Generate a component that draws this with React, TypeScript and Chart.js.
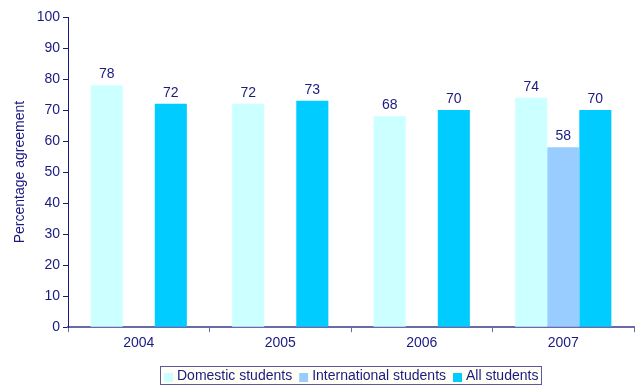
import React, { useEffect, useRef } from "react";
import { Chart, registerables } from "chart.js";

Chart.register(...registerables);

const categories = ["2004", "2005", "2006", "2007"];
const domestic = [78, 72, 68, 74];
const international = [null, null, null, 58];
const allStudents = [72, 73, 70, 70];
const yTicks = [0, 10, 20, 30, 40, 50, 60, 70, 80, 90, 100];

const NAVY = "#1a1a80";
const FONT = "'Liberation Sans', Arial, sans-serif";

const valueLabels = {
  id: "valueLabels",
  afterDatasetsDraw(chart: any) {
    const ctx = chart.ctx;
    ctx.save();
    ctx.fillStyle = NAVY;
    ctx.font = `14px ${FONT}`;
    ctx.textAlign = "center";
    ctx.textBaseline = "bottom";
    chart.data.datasets.forEach((ds: any, i: number) => {
      const meta = chart.getDatasetMeta(i);
      meta.data.forEach((el: any, j: number) => {
        const v = ds.data[j];
        if (v === null || v === undefined) return;
        ctx.fillText(String(v), el.x, el.y - 4);
      });
    });
    ctx.restore();
  },
};

const boxedLegend = {
  id: "boxedLegend",
  afterDraw(chart: any) {
    const ctx = chart.ctx;
    const area = chart.chartArea;
    ctx.save();
    ctx.font = `14px ${FONT}`;
    const sq = 9;
    const gapText = 4;
    const gapItem = 7;
    const padL = 4;
    const padR = 3;
    const items = chart.data.datasets.map((ds: any) => ({
      label: ds.label,
      color: ds.backgroundColor,
      w: ctx.measureText(ds.label).width,
    }));
    let total = padL + padR;
    items.forEach((it: any, i: number) => {
      total += sq + gapText + it.w + (i < items.length - 1 ? gapItem : 0);
    });
    const cx = (area.left + area.right) / 2;
    const x0 = Math.round(cx - total / 2);
    const y0 = 366;
    const h = 18;
    ctx.fillStyle = "#fffff8";
    ctx.fillRect(x0, y0, total, h);
    ctx.strokeStyle = "#5a5aa0";
    ctx.lineWidth = 1;
    ctx.strokeRect(x0 + 0.5, y0 + 0.5, Math.round(total), h);
    let x = x0 + padL;
    const cy = y0 + h / 2 + 1;
    ctx.textBaseline = "middle";
    ctx.textAlign = "left";
    items.forEach((it: any) => {
      ctx.fillStyle = it.color;
      ctx.fillRect(x, Math.round(cy - sq / 2) + 1, sq, sq);
      x += sq + gapText;
      ctx.fillStyle = NAVY;
      ctx.fillText(it.label, x, cy);
      x += it.w + gapItem;
    });
    ctx.restore();
  },
};

export default function App() {
  const ref = useRef<HTMLCanvasElement>(null);
  useEffect(() => {
    if (!ref.current) return;
    const chart = new Chart(ref.current, {
      type: "bar",
      data: {
        labels: categories,
        datasets: [
          { label: "Domestic students", data: domestic, backgroundColor: "#ccffff" },
          { label: "International students", data: international as any, backgroundColor: "#99ccff" },
          { label: "All students", data: allStudents, backgroundColor: "#00ccff" },
        ],
      },
      options: {
        animation: false,
        responsive: false,
        maintainAspectRatio: false,
        layout: { padding: { top: 17, right: 4, left: 0, bottom: 30 } },
        datasets: { bar: { barPercentage: 1, categoryPercentage: 0.68 } },
        plugins: {
          tooltip: { enabled: false },
          legend: { display: false },
        },
        scales: {
          x: {
            grid: { display: true, drawOnChartArea: false, offset: true, color: "#6a6aa8", tickLength: 5 },
            border: { color: "#6a6aa8", width: 2 },
            ticks: { color: NAVY, font: { family: FONT, size: 14 }, padding: 3 },
          },
          y: {
            min: 0,
            max: 100,
            afterBuildTicks: (axis: any) => { axis.ticks = yTicks.map((v) => ({ value: v })); },
            afterFit: (axis: any) => { axis.width = 68; },
            grid: { display: true, drawOnChartArea: false, color: NAVY, tickLength: 5 },
            border: { color: NAVY, width: 1 },
            ticks: { color: NAVY, font: { family: FONT, size: 14 }, padding: 3 },
            title: { display: true, text: "Percentage agreement", color: NAVY, font: { family: FONT, size: 14 }, padding: { top: 12, bottom: 0 } },
          },
        },
      },
      plugins: [valueLabels, boxedLegend],
    });
    return () => chart.destroy();
  }, []);
  return (
    <div style={{ position: "fixed", left: 0, top: 0, width: 638, height: 385, background: "#fff" }}>
      <canvas ref={ref} width={638} height={385} />
    </div>
  );
}
